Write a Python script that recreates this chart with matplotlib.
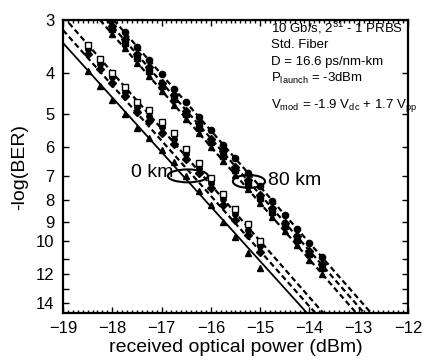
import matplotlib
matplotlib.use("Agg")
import matplotlib.pyplot as plt
from matplotlib.patches import Ellipse
from matplotlib.ticker import MultipleLocator, NullLocator

plt.rcParams['font.family'] = ['Liberation Sans', 'DejaVu Sans']
plt.rcParams['mathtext.default'] = 'regular'

# 0 km (back-to-back) measurements
x_0km = [-18.5, -18.25, -18.0, -17.75, -17.5, -17.25, -17.0, -16.75,
         -16.5, -16.25, -16.0, -15.75, -15.5, -15.25, -15.0]
sq_0km = [3.43, 3.71, 4.0, 4.32, 4.70, 4.89, 5.23, 5.56,
          6.05, 6.53, 7.08, 7.73, 8.39, 9.1, 10.0]
circ_0km = [3.52, 3.82, 4.1, 4.44, 4.82, 5.05, 5.38, 5.73,
            6.22, 6.72, 7.3, 7.95, 8.65, 9.4, 10.3]
dia_0km = [3.62, 3.92, 4.22, 4.55, 4.95, 5.2, 5.55, 5.9,
           6.4, 6.9, 7.5, 8.2, 8.9, 9.7, 10.6]
tri_0km = [3.95, 4.3, 4.65, 5.0, 5.4, 5.7, 6.1, 6.5,
           7.0, 7.6, 8.2, 9.0, 9.8, 10.7, 11.6]

# 80 km measurements
x_80km = [-18.0, -17.75, -17.5, -17.25, -17.0, -16.75, -16.5, -16.25, -16.0,
          -15.75, -15.5, -15.25, -15.0, -14.75, -14.5, -14.25, -14.0, -13.75]
circ_80km = [2.98, 3.2, 3.47, 3.74, 4.02, 4.36, 4.69, 5.08, 5.47,
             5.93, 6.37, 6.9, 7.42, 8.05, 8.66, 9.38, 10.1, 10.9]
dia_80km = [3.1, 3.33, 3.62, 3.88, 4.22, 4.52, 4.92, 5.27, 5.73,
            6.14, 6.68, 7.16, 7.78, 8.35, 9.06, 9.72, 10.56, 11.35]
sq_80km = [3.15, 3.4, 3.68, 3.96, 4.3, 4.62, 5.0, 5.4, 5.83,
           6.28, 6.79, 7.33, 7.9, 8.54, 9.22, 9.95, 10.75, 11.6]
tri_80km = [3.24, 3.5, 3.8, 4.08, 4.41, 4.76, 5.14, 5.56, 6.0,
            6.47, 6.98, 7.54, 8.14, 8.79, 9.49, 10.24, 11.06, 11.94]

# fitted lines (endpoints)
fit_sq_0km = ([-19.0, -13.72], [2.94, 14.8])
fit_dia_0km = ([-19.0, -13.88], [3.17, 14.8])
fit_tri_0km = ([-19.0, -14.05], [3.4, 14.8])
fit_circ_80km = ([-17.97, -12.75], [3.0, 14.8])
fit_dia_80km = ([-18.11, -12.89], [3.0, 14.8])
fit_tri_80km = ([-18.25, -13.05], [3.0, 14.8])

yticks = [3, 4, 5, 6, 7, 8, 9, 10, 11, 12, 13, 14]
ytick_labels = ['3', '4', '5', '6', '7', '8', '9', '10', '', '12', '', '14']
xticks = [-19, -18, -17, -16, -15, -14, -13, -12]

fig = plt.figure(figsize=(4.26, 3.62), dpi=100)
ax = fig.add_axes([63 / 426, 1 - 313 / 362, 345 / 426, 293 / 362])

dash = (0, (2.5, 1.5))
for fx, fy in [fit_sq_0km, fit_dia_0km, fit_circ_80km, fit_dia_80km, fit_tri_80km]:
    ax.plot(fx, fy, color='black', lw=1.6, linestyle=dash)
ax.plot(*fit_tri_0km, color='black', lw=1.3)

ax.plot(x_0km, circ_0km, 'o', color='black', ms=4)
ax.plot(x_0km, dia_0km, 'D', color='black', ms=4)
ax.plot(x_0km, tri_0km, '^', color='black', ms=5)
ax.plot(x_0km, sq_0km, 's', mfc='white', mec='black', mew=1, ms=4)
ax.plot(x_80km, circ_80km, 'o', color='black', ms=4.5)
ax.plot(x_80km, dia_80km, 'D', color='black', ms=4)
ax.plot(x_80km, sq_80km, 's', color='black', ms=4)
ax.plot(x_80km, tri_80km, '^', color='black', ms=5)

ax.set_yscale('log')
ax.set_ylim(14.8, 3)
ax.set_xlim(-19, -12)
ax.set_yticks(yticks)
ax.set_yticklabels(ytick_labels)
ax.yaxis.set_minor_locator(NullLocator())
ax.set_xticks(xticks)
ax.xaxis.set_minor_locator(MultipleLocator(0.1))

ax.tick_params(which='both', direction='in', top=True, right=True,
               width=1, labelsize=12)
ax.tick_params(which='major', length=4, pad=6)
ax.tick_params(which='minor', length=2)
for s in ax.spines.values():
    s.set_linewidth(1.6)

ax.set_xlabel('received optical power (dBm)', fontsize=14, labelpad=2)
ax.set_ylabel('-log(BER)', fontsize=14, labelpad=6)

# annotations
ax.text(0.197, 0.478, '0 km', transform=ax.transAxes, fontsize=14, va='center')
ax.text(0.594, 0.451, '80 km', transform=ax.transAxes, fontsize=14, va='center')
ax.add_patch(Ellipse((0.362, 0.468), 0.116, 0.044, transform=ax.transAxes,
                     fill=False, lw=1.5, ec='black'))
ax.add_patch(Ellipse((0.539, 0.449), 0.093, 0.044, transform=ax.transAxes,
                     fill=False, lw=1.5, ec='black'))

info = ['10 Gb/s, 2$^{31}$ - 1 PRBS',
        'Std. Fiber',
        'D = 16.6 ps/nm-km',
        'P$_{launch}$ = -3dBm',
        'V$_{mod}$ = -1.9 V$_{dc}$ + 1.7 V$_{pp}$']
info_y = [0.959, 0.904, 0.846, 0.790, 0.700]
for t, yy in zip(info, info_y):
    ax.text(0.603, yy, t, transform=ax.transAxes, fontsize=9.5,
            va='baseline', clip_on=False)

fig.savefig('out.png', dpi=100)
